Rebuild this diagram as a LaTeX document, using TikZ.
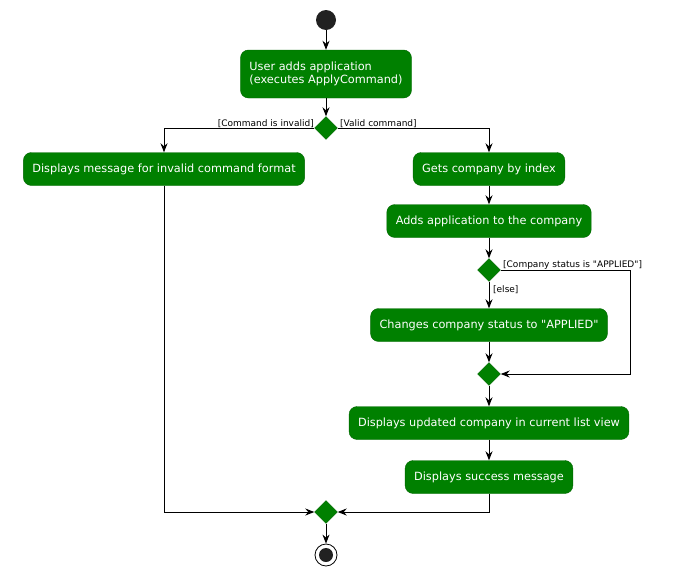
\documentclass[tikz,border=0pt]{standalone}
\usepackage{fontspec}
\setmainfont{DejaVu Sans}
\usetikzlibrary{shapes.geometric,arrows.meta,positioning}
\tikzset{
  act/.style={draw=green!40!black,fill=green!50!black,rounded corners=8pt,text=white,
    font=\fontsize{11.3}{13.5}\selectfont,align=left,inner xsep=9pt,minimum height=33pt},
  dia/.style={diamond,draw=green!40!black,fill=green!50!black,inner sep=0pt,minimum size=23pt},
  flow/.style={-{Stealth[length=9pt,width=7pt]},line width=1pt},
  grd/.style={font=\fontsize{9}{10}\selectfont,inner sep=1pt}
}
\begin{document}
\begin{tikzpicture}[x=1pt,y=-1pt]
\useasboundingbox (0,0) rectangle (686,576);

\node[circle,fill=black!87,minimum size=20pt,inner sep=0pt] (start) at (326,20) {};
\node[act,minimum height=48pt] (apply) at (326,74) {User adds application\\(executes ApplyCommand)};
\node[dia] (d1) at (326,128) {};
\node[act] (invalid) at (164,169) {Displays message for invalid command format};
\node[act] (getco) at (489,169) {Gets company by index};
\node[act] (addapp) at (489,221) {Adds application to the company};
\node[dia] (d2) at (489,270) {};
\node[act] (change) at (489,325) {Changes company status to \textquotedbl APPLIED\textquotedbl};
\node[dia] (d3) at (489,374) {};
\node[act] (update) at (489,423) {Displays updated company in current list view};
\node[act] (success) at (489,477) {Displays success message};
\node[dia] (d4) at (326,512) {};
\node[circle,draw=black,line width=0.8pt,minimum size=22pt,inner sep=0pt] (stop) at (326,555) {};
\node[circle,fill=black!87,minimum size=14pt,inner sep=0pt] (stopin) at (stop) {};

% main line
\draw[flow] (start) -- (apply);
\draw[flow] (apply) -- (d1);
\draw[flow] (d1.west) -| (invalid.north);
\draw[flow] (d1.east) -| (getco.north);
\draw[flow] (getco) -- (addapp);
\draw[flow] (addapp) -- (d2);
\draw[flow] (d2) -- (change);
\draw[flow] (change) -- (d3);
\coordinate (skip) at (630,270);
\draw[flow] (d2.east) -- (skip) -- (skip |- d3) -- (d3.east);
\draw[flow] (d3) -- (update);
\draw[flow] (update) -- (success);
\draw[flow] (invalid.south) |- (d4.west);
\draw[flow] (success.south) |- (d4.east);
\draw[flow] (d4) -- (stop);

% guards
\node[grd,anchor=south east] (g1) at (315,129) {[Command is invalid]};
\node[grd,anchor=south west] (g2) at (339,129) {[Valid command]};
\node[grd,anchor=south west] (g3) at (502,271) {[Company status is \textquotedbl APPLIED\textquotedbl]};
\node[grd,anchor=north west] (g4) at (492,284) {[else]};
\end{tikzpicture}
\end{document}
